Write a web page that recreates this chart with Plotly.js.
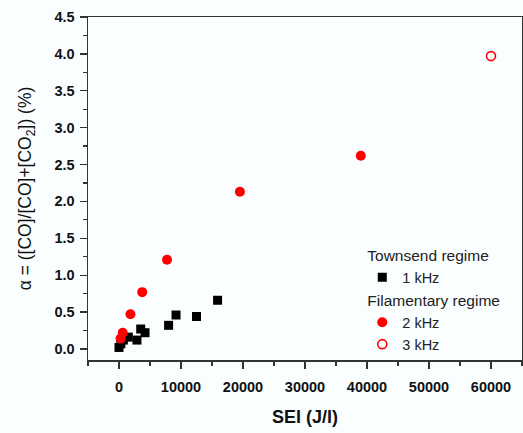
<!DOCTYPE html>
<html>
<head>
<meta charset="utf-8">
<script src="https://cdn.plot.ly/plotly-3.0.1.min.js"></script>
<style>
html,body{margin:0;padding:0;background:#fafeff;}
#chart{width:523px;height:433px;}
</style>
</head>
<body>
<div id="chart"></div>
<script>
// Townsend regime, 1 kHz
const sei1kHz = [0, 300, 700, 1500, 2900, 3500, 4200, 8000, 9200, 12500, 15900];
const alpha1kHz = [0.02, 0.07, 0.12, 0.16, 0.12, 0.27, 0.22, 0.32, 0.46, 0.44, 0.66];
// Filamentary regime, 2 kHz
const sei2kHz = [250, 600, 1850, 3750, 7750, 19500, 39000];
const alpha2kHz = [0.14, 0.22, 0.47, 0.77, 1.21, 2.13, 2.62];
// Filamentary regime, 3 kHz
const sei3kHz = [60000];
const alpha3kHz = [3.97];

const xTicks = [0, 10000, 20000, 30000, 40000, 50000, 60000];
const yTicks = [0.0, 0.5, 1.0, 1.5, 2.0, 2.5, 3.0, 3.5, 4.0, 4.5];

const traces = [
  {
    x: sei1kHz, y: alpha1kHz, type: 'scatter', mode: 'markers', name: '1 kHz',
    legendgroup: 'townsend', legendgrouptitle: {text: 'Townsend regime', font: {size: 15.5, color: '#222'}},
    marker: {symbol: 'square', size: 9, color: '#000000'}
  },
  {
    x: sei2kHz, y: alpha2kHz, type: 'scatter', mode: 'markers', name: '2 kHz',
    legendgroup: 'filamentary', legendgrouptitle: {text: 'Filamentary regime', font: {size: 15.5, color: '#222'}},
    marker: {symbol: 'circle', size: 10, color: '#ff0000'}
  },
  {
    x: sei3kHz, y: alpha3kHz, type: 'scatter', mode: 'markers', name: '3 kHz',
    legendgroup: 'filamentary',
    marker: {symbol: 'circle-open', size: 9, color: '#ff0000', line: {width: 1.6, color: '#ff0000'}}
  }
];

const axisCommon = {
  showgrid: false, zeroline: false, showline: true, mirror: true,
  linecolor: '#333333', linewidth: 1.5,
  ticks: 'outside', ticklen: 7, tickwidth: 1.3, tickcolor: '#333333',
  tickfont: {family: 'Arial, Liberation Sans, sans-serif', size: 14.5, color: '#111'}
};

const layout = {
  width: 523, height: 433,
  paper_bgcolor: '#fafeff', plot_bgcolor: '#fafeff',
  margin: {l: 88, r: 1, t: 17, b: 73},
  font: {family: 'Arial, Liberation Sans, sans-serif', color: '#111'},
  showlegend: true,
  legend: {
    x: 0.632, y: 0.355, xanchor: 'left', yanchor: 'top',
    bgcolor: 'rgba(0,0,0,0)', borderwidth: 0,
    font: {size: 14.5, color: '#222'}, tracegroupgap: 0
  },
  xaxis: Object.assign({}, axisCommon, {
    range: [-5000, 65000], tickvals: xTicks, ticktext: xTicks.map(v => '<b>' + v + '</b>'),
    ticklabelstandoff: 6,
    minor: {dtick: 5000, ticks: 'outside', ticklen: 4, tickcolor: '#333333', tickwidth: 1.2},
    title: {text: '<b>SEI (J/l)</b>', font: {size: 18, color: '#111'}, standoff: 16}
  }),
  yaxis: Object.assign({}, axisCommon, {
    range: [-0.15, 4.5], tickvals: yTicks, ticktext: yTicks.map(v => '<b>' + v.toFixed(1) + '</b>'),
    ticklabelstandoff: 2,
    minor: {dtick: 0.25, ticks: 'outside', ticklen: 4, tickcolor: '#333333', tickwidth: 1.2},
    title: {text: 'α = ([CO]/[CO]+[CO<sub>2</sub>]) (%)', font: {size: 17.5, color: '#111'}, standoff: 18}
  })
};

Plotly.newPlot('chart', traces, layout, {displayModeBar: false, staticPlot: true});
</script>
</body>
</html>
